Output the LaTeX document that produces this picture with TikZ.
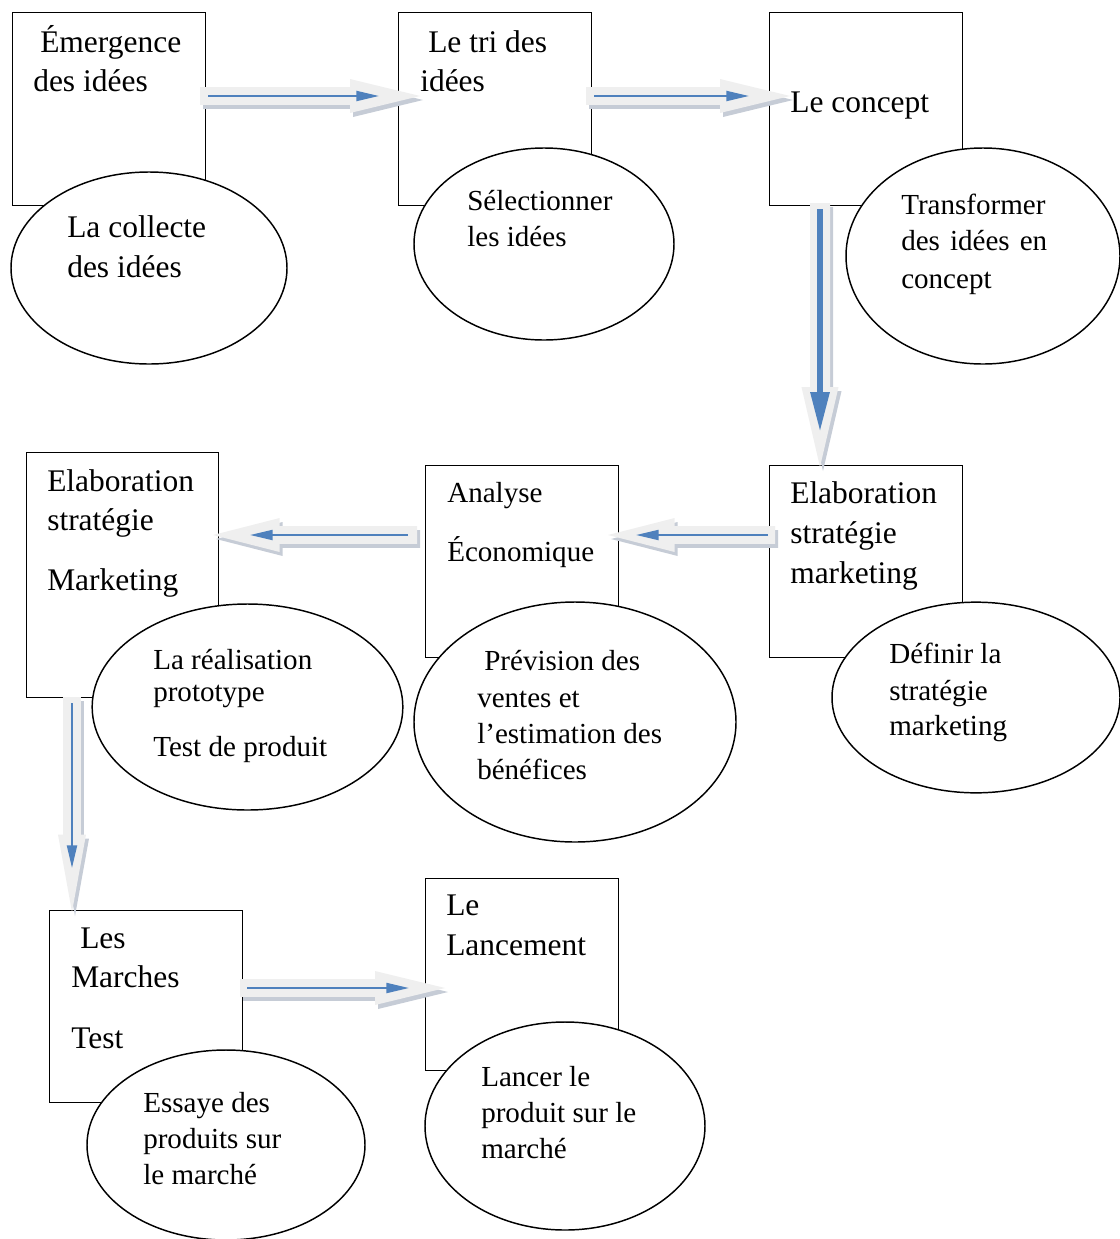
\documentclass[tikz,border=0pt]{standalone}
\usepackage{fontspec}
\setmainfont{Liberation Serif}
\usetikzlibrary{calc,arrows.meta,shapes.geometric}
\definecolor{fatfill}{HTML}{EFEFEF}
\definecolor{fatshadow}{HTML}{C6CCD6}
\definecolor{wordblue}{HTML}{4F81BD}
\newcommand\bigtxt{\fontsize{23.6}{28}\selectfont}
\newcommand\smalltxt{\fontsize{21.8}{26}\selectfont}
% #1 start, #2 end, #3 half shaft, #4 half head, #5 head length
\newcommand\fatarr[5]{%
  \coordinate (#1-h) at ($(#2)!#5!(#1)$);
  \fill[fatshadow, transform canvas={shift={(2.25pt,-3pt)}}]
    ($(#1)!#3!90:(#2)$) -- ($(#1-h)!#3!-90:(#1)$) -- ($(#1-h)!#4!-90:(#1)$) -- (#2)
    -- ($(#1-h)!#4!90:(#1)$) -- ($(#1-h)!#3!90:(#1)$) -- ($(#1)!#3!-90:(#2)$) -- cycle;
  \fill[fatfill]
    ($(#1)!#3!90:(#2)$) -- ($(#1-h)!#3!-90:(#1)$) -- ($(#1-h)!#4!-90:(#1)$) -- (#2)
    -- ($(#1-h)!#4!90:(#1)$) -- ($(#1-h)!#3!90:(#1)$) -- ($(#1)!#3!-90:(#2)$) -- cycle;
}
\tikzset{
  box/.style={draw=black, line width=1.1pt, fill=white, anchor=north west, inner sep=0pt},
  ell/.style={draw=black, line width=1.1pt, fill=white, ellipse, inner sep=0pt},
  lbl/.style={anchor=base west, inner sep=0pt, text=black},
  big/.style={lbl, font=\bigtxt},
  sml/.style={lbl, font=\smalltxt},
  blueline/.style={draw=wordblue, line width=1.5pt, -{Triangle[length=17pt,width=7.5pt]}},
  bluethick/.style={draw=wordblue, line width=4.5pt, -{Triangle[length=30pt,width=13.5pt]}},
}
\begin{document}
\begin{tikzpicture}[x=0.75pt,y=-0.75pt]
\useasboundingbox (0,0) rectangle (1120,1239);
% boxes
\node[box, minimum width=144.75pt, minimum height=144.75pt] (b1) at (12,12) {};
\node[box, minimum width=144.75pt, minimum height=144.75pt] (b2) at (398,12) {};
\node[box, minimum width=144.75pt, minimum height=144.75pt] (b3) at (769,12) {};
\node[box, minimum width=144pt, minimum height=183.75pt] (b4) at (26,452) {};
\node[box, minimum width=144.75pt, minimum height=144pt] (b5) at (425,465) {};
\node[box, minimum width=144.75pt, minimum height=144pt] (b6) at (769,465) {};
\node[box, minimum width=144.75pt, minimum height=144pt] (b7) at (49,910) {};
\node[box, minimum width=144.75pt, minimum height=144pt] (b8) at (425,878) {};
% ellipses
\node[ell, minimum width=207pt, minimum height=144pt] (e1) at (149,268) {};
\node[ell, minimum width=195pt, minimum height=144pt] (e2) at (544,244) {};
\node[ell, minimum width=205.5pt, minimum height=162pt] (e3) at (983,256) {};
\node[ell, minimum width=233pt, minimum height=154.5pt] (e4) at (247.5,707) {};
\node[ell, minimum width=241.5pt, minimum height=180pt] (e5) at (575,722) {};
\node[ell, minimum width=216pt, minimum height=143pt] (e6) at (976,697.5) {};
\node[ell, minimum width=208.5pt, minimum height=142.5pt] (e7) at (226,1145) {};
\node[ell, minimum width=210pt, minimum height=156pt] (e8) at (565,1126) {};
% fat arrows
\coordinate (a1s) at (200,96);  \coordinate (a1e) at (420,96);
\coordinate (a2s) at (586,96);  \coordinate (a2e) at (790,96);
\coordinate (a3s) at (820,203); \coordinate (a3e) at (820,467);
\coordinate (a4s) at (775,535); \coordinate (a4e) at (608,535);
\coordinate (a5s) at (417,535); \coordinate (a5e) at (213,535);
\coordinate (a6s) at (72,697);  \coordinate (a6e) at (72,912);
\coordinate (a7s) at (240,988); \coordinate (a7e) at (445,988);
\fatarr{a1s}{a1e}{6.6pt}{12.75pt}{52.5pt}
\fatarr{a2s}{a2e}{6.6pt}{12.75pt}{52.5pt}
\fatarr{a3s}{a3e}{7.5pt}{13.9pt}{60pt}
\fatarr{a4s}{a4e}{6.6pt}{12.75pt}{50pt}
\fatarr{a5s}{a5e}{6.6pt}{12.75pt}{50pt}
\fatarr{a6s}{a6e}{6.6pt}{10.5pt}{58pt}
\fatarr{a7s}{a7e}{6.6pt}{12.75pt}{52.5pt}
% blue arrows
\draw[blueline] ($(a1s)+(8,0)$) -- ($(a1e)+(-41,0)$);
\draw[blueline] ($(a2s)+(8,0)$) -- ($(a2e)+(-41,0)$);
\draw[bluethick] ($(a3s)+(0,6)$) -- ($(a3e)+(0,-35)$);
\draw[blueline] ($(a4s)+(-7,0)$) -- ($(a4e)+(28,0)$);
\draw[blueline] ($(a5s)+(-9,0)$) -- ($(a5e)+(37,0)$);
\draw[blueline] ($(a6s)+(0,6)$) -- ($(a6e)+(0,-44)$);
\draw[blueline] ($(a7s)+(7,0)$) -- ($(a7e)+(-36,0)$);
% texts
\node[big] (t1a) at (40,52) {Émergence};
\node[big] (t1b) at (33,91) {des idées};
\node[big] (t2a) at (428,52) {Le tri des};
\node[big] (t2b) at (420,91) {idées};
\node[big] (t3a) at (790,112) {Le concept};
\node[big] (u1a) at (67,237) {La collecte};
\node[big] (u1b) at (67,277) {des idées};
\node[sml] (u2a) at (467,210) {Sélectionner};
\node[sml] (u2b) at (467,246) {les idées};
\node[sml] (u3a) at (901,214) {Transformer};
\node[sml] (u3b) at (901,250) {\makebox[109.5pt][s]{des idées en}};
\node[sml] (u3c) at (901,288) {concept};
\node[big] (t4a) at (47,491) {Elaboration};
\node[big] (t4b) at (47,530) {stratégie};
\node[big] (t4c) at (47,590) {Marketing};
\node[sml] (u4a) at (153,669) {La réalisation};
\node[sml] (u4b) at (153,701) {prototype};
\node[sml] (u4c) at (153,756) {Test de produit};
\node[sml] (t5a) at (447,502) {Analyse};
\node[sml] (t5b) at (447,561) {Économique};
\node[sml] (u5a) at (484,670) {Prévision des};
\node[sml] (u5b) at (477,707) {ventes et};
\node[sml] (u5c) at (477,743) {l’estimation des};
\node[sml] (u5d) at (477,779) {bénéfices};
\node[big] (t6a) at (790,503) {Elaboration};
\node[big] (t6b) at (790,543) {stratégie};
\node[big] (t6c) at (790,583) {marketing};
\node[sml] (u6a) at (889,663) {Définir la};
\node[sml] (u6b) at (889,700) {stratégie};
\node[sml] (u6c) at (889,735) {marketing};
\node[big] (t7a) at (80,948) {Les};
\node[big] (t7b) at (71,987) {Marches};
\node[big] (t7c) at (71,1048) {Test};
\node[sml] (u7a) at (143,1112) {Essaye des};
\node[sml] (u7b) at (143,1148) {produits sur};
\node[sml] (u7c) at (143,1184) {le marché};
\node[big] (t8a) at (446,915) {Le};
\node[big] (t8b) at (446,955) {Lancement};
\node[sml] (u8a) at (481,1086) {Lancer le};
\node[sml] (u8b) at (481,1122) {produit sur le};
\node[sml] (u8c) at (481,1158) {marché};
\end{tikzpicture}
\end{document}
